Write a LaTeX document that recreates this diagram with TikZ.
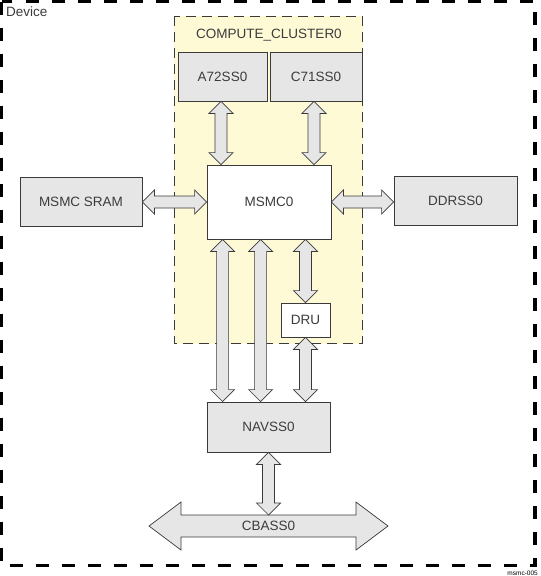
\documentclass[tikz,border=0pt]{standalone}
\usepackage{fontspec}
\setmainfont{Liberation Sans}
\usetikzlibrary{calc}
\definecolor{BoxClr}{HTML}{E6E6E6}
\definecolor{ClusterClr}{HTML}{FFFAD6}
\definecolor{LineClr}{HTML}{3A3A3A}
\definecolor{TextClr}{HTML}{3C3C3C}

\tikzset{
  block/.style={draw=LineClr,line width=0.8pt,fill=BoxClr,inner sep=0pt,
    font=\fontsize{13.5}{16}\selectfont,text=TextClr},
  busarrow/.style={draw=LineClr,line width=0.7pt,fill=BoxClr,line join=miter},
}

% vertical double block arrow: #1 upper tip, #2 lower tip
\newcommand{\BusV}[2]{%
  \path[busarrow] (#1) -- ++(12,12) -- ++(-6,0) -- ($(#2)+(6,-12)$) -- ++(6,0)
    -- (#2) -- ++(-12,-12) -- ++(6,0) -- ($(#1)+(-6,12)$) -- ++(-6,0) -- cycle;}
% horizontal double block arrow: #1 left tip, #2 right tip
\newcommand{\BusH}[2]{%
  \path[busarrow] (#1) -- ++(12,-12) -- ++(0,6) -- ($(#2)+(-12,-6)$) -- ++(0,-6)
    -- (#2) -- ++(-12,12) -- ++(0,-6) -- ($(#1)+(12,6)$) -- ++(0,6) -- cycle;}

\begin{document}
\begin{tikzpicture}[x=1pt,y=-1pt]
\useasboundingbox (0,0) rectangle (541,576);

% Device frame
\draw[black,line width=3.5pt,dash pattern=on 13pt off 13pt] (1.5,1.5) rectangle (535,565.5);
\node[anchor=base west,inner sep=0pt,text=TextClr,font=\fontsize{13.5}{16}\selectfont] (device) at (6,16) {Device};

% compute cluster
\draw[ClusterClr,fill=ClusterClr] (174,16) rectangle (362,343);
\draw[LineClr,line width=0.8pt,dash pattern=on 10pt off 6pt] (174,16) rectangle (362,343);
\node[anchor=base,inner sep=0pt,text=TextClr,font=\fontsize{13.5}{16}\selectfont] (cluster) at (269,38) {COMPUTE\_CLUSTER0};

% blocks
\node[block,minimum width=89pt,minimum height=49pt] (a72) at (222.5,76.5) {A72SS0};
\node[block,minimum width=92pt,minimum height=49pt] (c71) at (316,76.5) {C71SS0};
\node[block,fill=white,minimum width=124pt,minimum height=74pt] (msmc) at (269,202) {MSMC0};
\node[block,minimum width=122pt,minimum height=49pt] (sram) at (81,202) {MSMC SRAM};
\node[block,minimum width=123pt,minimum height=49pt] (ddr) at (455.5,201) {DDRSS0};
\node[block,fill=white,minimum width=49pt,minimum height=34pt] (dru) at (305.5,320) {DRU};
\node[block,minimum width=123pt,minimum height=50pt] (nav) at (268.5,427) {NAVSS0};

% attach points
\coordinate (a72b) at ($(a72.south)+(-1.5,0)$);
\coordinate (c71b) at ($(c71.south)+(-2,0)$);
\coordinate (nav1) at ($(nav.north west)+(16,0)$);
\coordinate (nav2) at ($(nav.north west)+(54,0)$);
\coordinate (cbL) at (149,526);
\coordinate (cbR) at (388,526);
\coordinate (cbtop) at (268.5,515);

% connectors
\BusV{a72b}{a72b |- msmc.north}
\BusV{c71b}{c71b |- msmc.north}
\BusH{sram.east |- msmc.west}{msmc.west}
\BusH{msmc.east}{ddr.west |- msmc.east}
\BusV{nav1 |- msmc.south}{nav1}
\BusV{nav2 |- msmc.south}{nav2}
\BusV{dru.north |- msmc.south}{dru.north}
\BusV{dru.south}{dru.south |- nav.north}

% CBASS0 bus
\path[busarrow] (cbL) -- ++(32,-24) -- ++(0,13) -- ($(cbR)+(-32,-11)$) -- ++(0,-13)
  -- (cbR) -- ++(-32,24) -- ++(0,-13) -- ($(cbL)+(32,11)$) -- ++(0,13) -- cycle;
\node[inner sep=0pt,text=TextClr,font=\fontsize{13.5}{16}\selectfont] (cbass) at ($(cbL)!0.5!(cbR)$) {CBASS0};
\BusV{nav.south}{cbtop}

\node[anchor=base east,inner sep=0pt,font=\fontsize{6.5}{7}\selectfont] (fig) at (538,575) {msmc-005};
\end{tikzpicture}
\end{document}
